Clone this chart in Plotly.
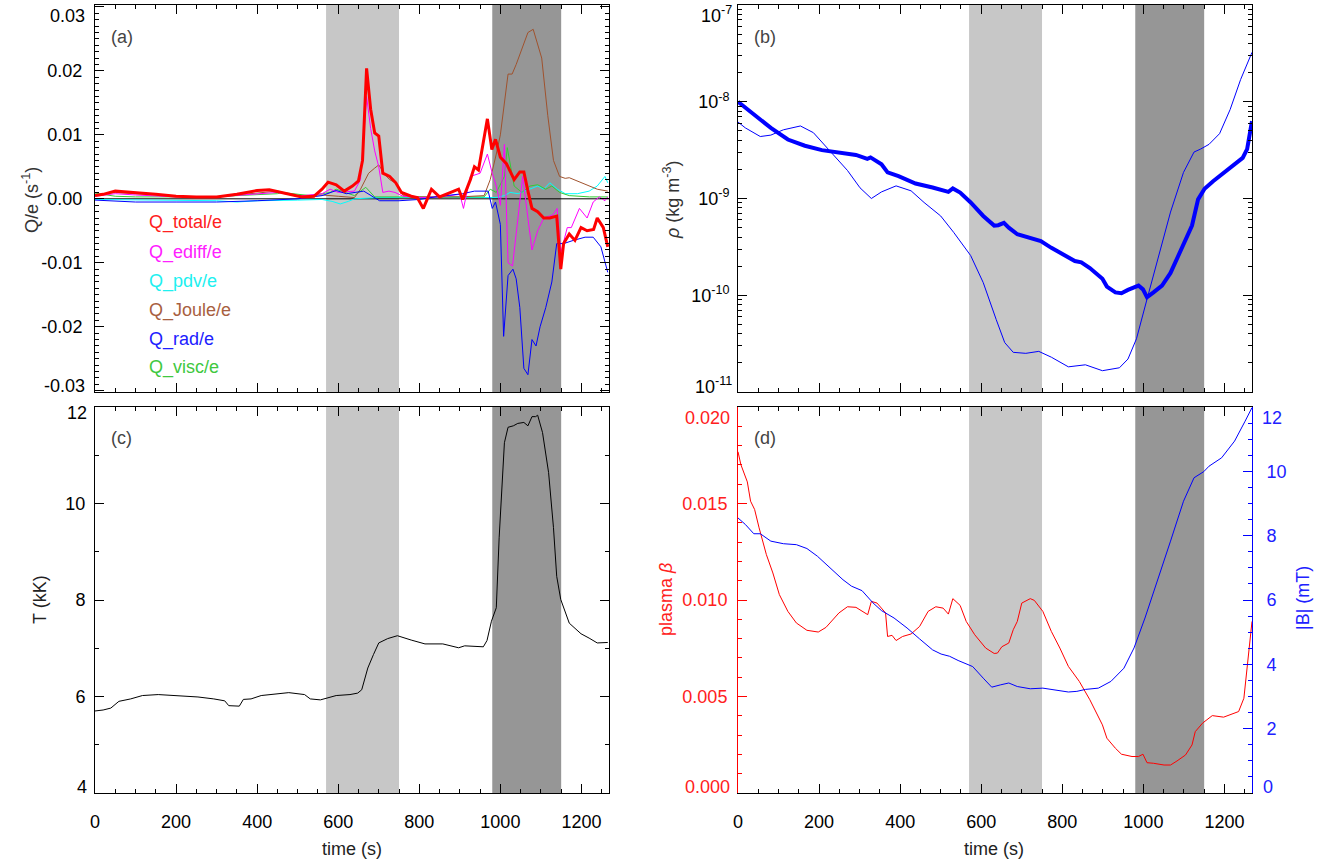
import plotly.graph_objects as go

W, H = 1327, 863

# ---------------- data ----------------
light_band = [570, 750]
dark_band = [980, 1150]
t_max = 1268

t_total = [0, 20, 50, 80, 110, 150, 200, 250, 300, 350, 400, 430, 460, 490, 510, 540, 560, 575, 595, 615, 635, 650, 660, 670, 680, 690, 700, 710, 727, 742, 756, 780, 795, 810, 830, 850, 870, 897, 907, 926, 936, 946, 968, 979, 988, 1000, 1015, 1034, 1048, 1058, 1068, 1078, 1092, 1107, 1122, 1139, 1149, 1156, 1170, 1184, 1199, 1214, 1230, 1239, 1254, 1265]
q_total = [0.0005, 0.0007, 0.0012, 0.001, 0.0009, 0.0007, 0.0004, 0.0003, 0.0003, 0.0007, 0.0013, 0.0014, 0.001, 0.0006, 0.0003, 0.0004, 0.0015, 0.0026, 0.0022, 0.0012, 0.002, 0.0028, 0.006, 0.0204, 0.014, 0.0103, 0.0098, 0.004, 0.0035, 0.0025, 0.001, 0.0004, 0.0002, -0.0015, 0.0015, 0.0003, 0.0008, 0.0015, -0.0001, 0.003, 0.005, 0.0045, 0.0125, 0.0077, 0.0093, 0.0065, 0.0055, 0.003, 0.0042, 0.0042, 0.0012, -0.0015, -0.002, -0.003, -0.003, -0.0027, -0.011, -0.007, -0.0055, -0.0065, -0.0045, -0.005, -0.0048, -0.003, -0.0045, -0.0075]

t_ediff = [0, 50, 100, 200, 300, 400, 450, 500, 560, 580, 600, 640, 655, 670, 680, 690, 700, 710, 725, 740, 760, 800, 850, 900, 909, 926, 950, 968, 980, 990, 1000, 1010, 1019, 1030, 1045, 1055, 1078, 1092, 1107, 1130, 1140, 1149, 1165, 1175, 1195, 1214, 1229, 1244, 1258, 1265]
q_ediff = [0.0004, 0.0008, 0.0006, 0.0003, 0.0003, 0.0008, 0.001, 0.0004, 0.0008, 0.0015, 0.001, 0.0012, 0.003, 0.016, 0.011, 0.0075, 0.005, 0.001, 0.0012, 0.001, 0.0004, 0.0002, 0.0003, 0.0007, -0.0015, 0.0035, 0.004, 0.007, 0.004, 0.002, -0.001, 0.0085, -0.01, -0.0105, -0.002, 0.0035, -0.008, -0.005, -0.003, -0.0025, -0.0015, -0.0085, -0.0045, -0.0045, -0.0015, -0.003, -0.0005, 0.0003, -0.0003, 0.0003]

t_pdv = [0, 100, 200, 300, 350, 400, 500, 560, 585, 605, 625, 640, 700, 800, 900, 990, 1010, 1024, 1044, 1073, 1092, 1107, 1122, 1141, 1160, 1190, 1219, 1239, 1258, 1265]
q_pdv = [-0.0001, -0.0002, -0.0003, -0.0003, -0.0005, -0.0003, -0.0002, -0.0001, -0.0004, -0.0008, -0.0004, 0.0, 0.0002, 0.0002, 0.0002, 0.0002, 0.0005, 0.001, 0.0008, 0.0015, 0.002, 0.0015, 0.0025, 0.0015, 0.0008, 0.0008, 0.0012, 0.002, 0.0035, 0.0025]

t_joule = [0, 50, 100, 200, 300, 400, 450, 500, 560, 600, 640, 655, 675, 690, 700, 715, 727, 741, 760, 800, 900, 960, 975, 990, 1000, 1019, 1029, 1039, 1068, 1081, 1102, 1117, 1131, 1146, 1160, 1170, 1190, 1209, 1239, 1265]
q_joule = [0.0006, 0.001, 0.0008, 0.0004, 0.0003, 0.0009, 0.0012, 0.0005, 0.0006, 0.0004, 0.0002, 0.0015, 0.004, 0.0048, 0.0053, 0.0038, 0.003, 0.0025, 0.0005, 0.0003, 0.0003, 0.0005, 0.003, 0.007, 0.01, 0.0195, 0.0195, 0.021, 0.026, 0.0265, 0.022, 0.013, 0.006, 0.0035, 0.0032, 0.0033, 0.0028, 0.0022, 0.0015, 0.0012]

t_rad = [0, 100, 200, 300, 400, 500, 560, 595, 620, 663, 702, 750, 800, 839, 907, 936, 970, 980, 988, 1000, 1008, 1019, 1031, 1039, 1048, 1058, 1068, 1078, 1088, 1098, 1112, 1127, 1139, 1156, 1180, 1209, 1229, 1248, 1265]
q_rad = [-0.0002, -0.0005, -0.0005, -0.0005, -0.0003, 0.0, 0.0005, 0.0013, 0.0008, 0.0012, -0.0003, -0.0003, -0.0001, 0.0003, 0.0008, 0.0012, 0.0012, -0.0015, -0.0005, -0.004, -0.0215, -0.012, -0.011, -0.0125, -0.017, -0.0265, -0.0275, -0.022, -0.023, -0.02, -0.017, -0.013, -0.007, -0.007, -0.0065, -0.006, -0.006, -0.0075, -0.0115]

t_visc = [0, 50, 100, 200, 300, 350, 450, 460, 530, 580, 595, 640, 668, 690, 800, 960, 975, 990, 1010, 1017, 1034, 1053, 1073, 1092, 1112, 1127, 1146, 1170, 1220, 1265]
q_visc = [0.0009, 0.0004, 0.0003, 0.0003, 0.0003, 0.0005, 0.0008, 0.001, 0.0005, 0.001, 0.0015, 0.0005, 0.0018, 0.0003, 0.0003, 0.0003, 0.0015, 0.001, 0.0035, 0.008, 0.002, 0.001, 0.002, 0.0022, 0.0015, 0.002, 0.001, 0.0005, 0.0003, 0.0003]

t_rho_thick = [0, 39, 81, 123, 165, 207, 249, 291, 319, 327, 354, 369, 396, 438, 480, 519, 530, 548, 574, 605, 632, 642, 656, 668, 689, 716, 747, 773, 805, 831, 847, 868, 899, 910, 931, 946, 962, 988, 999, 1009, 1025, 1046, 1067, 1093, 1120, 1135, 1151, 1172, 1193, 1219, 1245, 1256, 1268]
rho_thick = [1.0e-8, 7.41e-9, 5.37e-9, 4.07e-9, 3.51e-9, 3.16e-9, 3.02e-9, 2.82e-9, 2.57e-9, 2.66e-9, 2.26e-9, 1.86e-9, 1.70e-9, 1.43e-9, 1.30e-9, 1.17e-9, 1.27e-9, 1.15e-9, 9.1e-10, 6.6e-10, 5.25e-10, 5.3e-10, 5.6e-10, 5.0e-10, 4.27e-10, 3.98e-10, 3.63e-10, 3.09e-10, 2.57e-10, 2.26e-10, 2.19e-10, 1.91e-10, 1.48e-10, 1.23e-10, 1.07e-10, 1.05e-10, 1.135e-10, 1.26e-10, 1.15e-10, 9.55e-11, 1.07e-10, 1.26e-10, 1.70e-10, 2.95e-10, 5.25e-10, 9.8e-10, 1.26e-9, 1.51e-9, 1.78e-9, 2.19e-9, 2.63e-9, 3.24e-9, 6.3e-9]

t_rho_thin = [0, 18, 55, 81, 112, 154, 186, 228, 270, 301, 329, 354, 390, 427, 459, 500, 532, 574, 605, 637, 658, 679, 710, 742, 773, 815, 857, 899, 941, 962, 983, 1009, 1036, 1067, 1099, 1125, 1141, 1162, 1188, 1214, 1240, 1268]
rho_thin = [6.17e-9, 5.37e-9, 4.37e-9, 4.52e-9, 5.13e-9, 5.62e-9, 4.79e-9, 3.09e-9, 1.95e-9, 1.29e-9, 1.0e-9, 1.17e-9, 1.35e-9, 1.20e-9, 9.1e-10, 6.6e-10, 4.47e-10, 2.57e-10, 1.35e-10, 5.6e-11, 3.24e-11, 2.57e-11, 2.51e-11, 2.63e-11, 2.29e-11, 1.82e-11, 1.91e-11, 1.66e-11, 1.78e-11, 2.19e-11, 3.55e-11, 9.1e-11, 2.34e-10, 7.24e-10, 1.86e-9, 3.02e-9, 3.24e-9, 3.63e-9, 4.68e-9, 8.3e-9, 1.70e-8, 3.24e-8]

t_temp = [0, 20, 39, 59, 88, 117, 156, 205, 254, 293, 320, 330, 341, 356, 366, 385, 410, 449, 478, 517, 531, 556, 575, 595, 629, 648, 658, 673, 687, 700, 722, 746, 780, 814, 858, 897, 912, 946, 958, 967, 978, 990, 997, 1010, 1019, 1032, 1043, 1058, 1068, 1078, 1087, 1092, 1104, 1119, 1131, 1139, 1149, 1170, 1199, 1219, 1239, 1265]
temp_kK = [5.70, 5.72, 5.76, 5.90, 5.95, 6.02, 6.04, 6.02, 5.99, 5.95, 5.91, 5.81, 5.81, 5.80, 5.94, 5.95, 6.02, 6.06, 6.08, 6.04, 5.95, 5.93, 5.97, 6.02, 6.04, 6.07, 6.14, 6.59, 6.87, 7.11, 7.20, 7.26, 7.17, 7.09, 7.09, 7.01, 7.05, 7.03, 7.03, 7.16, 7.56, 7.84, 9.29, 11.26, 11.58, 11.61, 11.66, 11.68, 11.61, 11.80, 11.80, 11.83, 11.47, 10.64, 9.50, 8.49, 8.01, 7.52, 7.30, 7.21, 7.11, 7.12]

t_beta = [0, 7, 23, 31, 41, 52, 70, 86, 102, 123, 144, 170, 198, 217, 249, 270, 291, 320, 329, 343, 364, 369, 380, 390, 406, 427, 448, 469, 488, 506, 519, 530, 548, 563, 584, 611, 632, 640, 651, 668, 679, 689, 700, 721, 731, 752, 773, 794, 815, 842, 868, 899, 910, 931, 946, 972, 988, 999, 1009, 1025, 1051, 1067, 1083, 1104, 1120, 1128, 1146, 1170, 1198, 1219, 1235, 1248, 1258, 1268]
beta = [0.01768, 0.01702, 0.01612, 0.01512, 0.01469, 0.01374, 0.01235, 0.0114, 0.01028, 0.00941, 0.00881, 0.00843, 0.00834, 0.00858, 0.00933, 0.00965, 0.00962, 0.00924, 0.00993, 0.00984, 0.00933, 0.00811, 0.00817, 0.0079, 0.00811, 0.00824, 0.00863, 0.00941, 0.00965, 0.00958, 0.00927, 0.01007, 0.00972, 0.00889, 0.0082, 0.00751, 0.00723, 0.00725, 0.00758, 0.00777, 0.00846, 0.00889, 0.00984, 0.01007, 0.00998, 0.00941, 0.00837, 0.00751, 0.00656, 0.00578, 0.00483, 0.00353, 0.00284, 0.00232, 0.00201, 0.00189, 0.00189, 0.00201, 0.00157, 0.00154, 0.00145, 0.00145, 0.00166, 0.00197, 0.00249, 0.00318, 0.00362, 0.00401, 0.00393, 0.00408, 0.00422, 0.00491, 0.00682, 0.00889]

t_bmag = [0, 18, 39, 55, 81, 112, 144, 170, 196, 228, 259, 280, 306, 333, 354, 385, 417, 448, 480, 501, 522, 543, 579, 605, 626, 647, 668, 689, 721, 752, 784, 815, 836, 857, 889, 920, 952, 977, 1004, 1036, 1067, 1099, 1125, 1149, 1162, 1193, 1225, 1251, 1268]
bmag_mT = [8.55, 8.35, 8.06, 8.06, 7.83, 7.75, 7.72, 7.60, 7.36, 7.0, 6.63, 6.43, 6.29, 5.91, 5.67, 5.44, 5.13, 4.79, 4.45, 4.32, 4.25, 4.12, 3.93, 3.57, 3.29, 3.36, 3.42, 3.31, 3.24, 3.26, 3.19, 3.14, 3.16, 3.22, 3.26, 3.47, 3.88, 4.51, 5.44, 6.63, 7.83, 9.07, 9.80, 9.99, 10.16, 10.42, 10.94, 11.56, 11.98]

legend_labels = ["Q_total/e", "Q_ediff/e", "Q_pdv/e", "Q_Joule/e", "Q_rad/e", "Q_visc/e"]
legend_colors = ["#ff2020", "#ff20ff", "#20f0f0", "#a8603f", "#2020ff", "#40c840"]

# tick labels (inner ones go on the axes, the two end ones are nudged inward as in the original)
q_ticks = [-0.03, -0.02, -0.01, 0.0, 0.01, 0.02, 0.03]
q_ticktext = ["-0.03", "-0.02", "-0.01", "0.00", "0.01", "0.02", "0.03"]
rho_ticks = [1e-11, 1e-10, 1e-9, 1e-8, 1e-7]
rho_ticktext = ["10<sup>-11</sup>", "10<sup>-10</sup>", "10<sup>-9</sup>", "10<sup>-8</sup>", "10<sup>-7</sup>"]
temp_ticks = [4, 6, 8, 10, 12]
temp_ticktext = ["4", "6", "8", "10", "12"]
beta_ticks = [0.0, 0.005, 0.010, 0.015, 0.020]
beta_ticktext = ["0.000", "0.005", "0.010", "0.015", "0.020"]
bmag_ticks = [0, 2, 4, 6, 8, 10, 12]
bmag_ticktext = ["0", "2", "4", "6", "8", "10", "12"]

# ---------------- figure ----------------
FONT = "Liberation Sans, Arial, Helvetica, sans-serif"
fig = go.Figure()


def line(x, y, color, width, xa, ya):
    fig.add_trace(go.Scatter(x=x, y=y, mode="lines", line=dict(color=color, width=width),
                             xaxis=xa, yaxis=ya, showlegend=False, hoverinfo="skip"))


# panel (a)
line([0, t_max], [0, 0], "black", 1, "x", "y")
line(t_pdv, q_pdv, "#00ffff", 1, "x", "y")
line(t_visc, q_visc, "#33cc33", 1, "x", "y")
line(t_joule, q_joule, "#a0522d", 1, "x", "y")
line(t_ediff, q_ediff, "#ff00ff", 1, "x", "y")
line(t_rad, q_rad, "#0000ff", 1, "x", "y")
line(t_total, q_total, "#ff0000", 3, "x", "y")
# panel (b)
line(t_rho_thin, rho_thin, "#0000ff", 1, "x2", "y2")
line(t_rho_thick, rho_thick, "#0000ff", 4, "x2", "y2")
# panel (c)
line(t_temp, temp_kK, "black", 1, "x3", "y3")
# panel (d)
line(t_beta, beta, "#ff0000", 1, "x4", "y4")
line(t_bmag, bmag_mT, "#0000ff", 1, "x4", "y5")


def px_x(p):
    return p / W


def px_y(p):
    return 1 - p / H


XA = [px_x(95), px_x(609)]
XB = [px_x(738), px_x(1252)]
YT = [px_y(392), px_y(5)]
YB = [px_y(793), px_y(407)]

tickfont = dict(family=FONT, size=18, color="black")


def inner(txt):
    return [""] + txt[1:-1] + [""]


def xaxis(domain, anchor, labels):
    return dict(domain=domain, anchor=anchor, range=[0, t_max], tickmode="linear", tick0=0, dtick=200,
                ticks="inside", ticklen=9, tickwidth=1, tickcolor="black",
                minor=dict(dtick=50, ticks="inside", ticklen=4, tickcolor="black"),
                showline=True, linecolor="black", linewidth=1, mirror="ticks", automargin=False,
                showgrid=False, zeroline=False, showticklabels=labels, tickfont=tickfont,
                ticklabelstandoff=12)


def yaxis(domain, anchor, **kw):
    d = dict(domain=domain, anchor=anchor, ticks="inside", ticklen=9, tickwidth=1, tickcolor="black",
             showline=True, linecolor="black", linewidth=1, mirror="ticks", tickmode="array",
             automargin=False,
             showgrid=False, zeroline=False, tickfont=tickfont, ticklabelstandoff=8)
    d.update(kw)
    return d


fig.update_layout(
    width=W, height=H, margin=dict(l=0, r=0, t=0, b=0, autoexpand=False),
    paper_bgcolor="white", plot_bgcolor="white", font=dict(family=FONT, size=18, color="black"),
    showlegend=False,
    xaxis=xaxis(XA, "y", False),
    xaxis2=xaxis(XB, "y2", False),
    xaxis3=xaxis(XA, "y3", True),
    xaxis4=xaxis(XB, "y4", True),
    yaxis=yaxis(YT, "x", range=[-0.0302, 0.0303], tickvals=q_ticks, ticktext=inner(q_ticktext),
                minor=dict(tickmode="linear", dtick=0.001, tick0=0, ticks="inside", ticklen=4, tickcolor="black")),
    yaxis2=yaxis(YT, "x2", type="log", range=[-11, -7], tickvals=rho_ticks, ticktext=inner(rho_ticktext),
                 ticklabelstandoff=4,
                 minor=dict(dtick="D1", ticks="inside", ticklen=4, tickcolor="black")),
    yaxis3=yaxis(YB, "x3", range=[4, 12], tickvals=temp_ticks, ticktext=inner(temp_ticktext),
                 ticklabelstandoff=5,
                 minor=dict(tickmode="linear", dtick=1, tick0=0, ticks="inside", ticklen=4, tickcolor="black")),
    yaxis4=yaxis(YB, "x4", range=[0, 0.020], tickvals=beta_ticks, ticktext=inner(beta_ticktext),
                 mirror=False, linecolor="#ff0000", tickcolor="#ff0000", ticklabelstandoff=6,
                 tickfont=dict(family=FONT, size=18, color="#ff2020"),
                 minor=dict(tickmode="linear", dtick=0.001, tick0=0, ticks="inside", ticklen=4, tickcolor="#ff0000")),
    yaxis5=yaxis(YB, "x4", overlaying="y4", side="right", range=[0, 12], tickvals=bmag_ticks,
                 ticktext=inner(bmag_ticktext),
                 mirror=False, linecolor="#0000ff", tickcolor="#0000ff",
                 tickfont=dict(family=FONT, size=18, color="#2020ff"), ticklabelstandoff=10,
                 minor=dict(tickmode="linear", dtick=0.5, tick0=0, ticks="inside", ticklen=4, tickcolor="#0000ff")),
)

# shaded intervals
for xa, ya in [("x", "y"), ("x2", "y2"), ("x3", "y3"), ("x4", "y4")]:
    for band, col in [(light_band, "#c7c7c7"), (dark_band, "#969696")]:
        fig.add_shape(type="rect", xref=xa, yref=ya + " domain", x0=band[0], x1=band[1], y0=0, y1=1,
                      fillcolor=col, line=dict(width=0), layer="below")

ann = []


def text(px, py, s, color="#333333", size=18, angle=0, xanchor="center"):
    ann.append(dict(x=px_x(px), y=px_y(py), xref="paper", yref="paper", text=s, showarrow=False,
                    textangle=angle, xanchor=xanchor, yanchor="middle", borderpad=0,
                    font=dict(family=FONT, size=size, color=color)))


# end tick labels, nudged inside the panel height
text(86, 16, q_ticktext[-1], "black", 18, xanchor="right")
text(86, 386, q_ticktext[0], "black", 18, xanchor="right")
text(88, 413, temp_ticktext[-1], "black", 18, xanchor="right")
text(88, 787, temp_ticktext[0], "black", 18, xanchor="right")
text(733, 14, rho_ticktext[-1], "black", 18, xanchor="right")
text(733, 385, rho_ticktext[0], "black", 18, xanchor="right")
text(731, 418, beta_ticktext[-1], "#ff2020", 18, xanchor="right")
text(731, 787, beta_ticktext[0], "#ff2020", 18, xanchor="right")
text(1261, 418, bmag_ticktext[-1], "#2020ff", 18, xanchor="left")
text(1262, 787, bmag_ticktext[0], "#2020ff", 18, xanchor="left")

text(110, 37, "(a)", "#444444", 18, xanchor="left")
text(753, 37, "(b)", "#444444", 18, xanchor="left")
text(110, 438, "(c)", "#444444", 18, xanchor="left")
text(753, 438, "(d)", "#444444", 18, xanchor="left")

for i, (lab, col) in enumerate(zip(legend_labels, legend_colors)):
    text(148, 223 + i * 29, lab, col, 18, xanchor="left")

text(31, 200, "Q/e (s<sup>-1</sup>)", "#333333", 18, -90)
text(672, 200, "<i>ρ</i> (kg m<sup>-3</sup>)", "#333333", 18, -90)
text(40, 600, "T (kK)", "#222222", 18, -90)
text(666, 600, "plasma <i>β</i>", "#ff2020", 18, -90)
text(1303, 598, "|B| (mT)", "#2020ff", 18, -90)
text(352, 849, "time (s)", "#222222", 18)
text(994, 849, "time (s)", "#222222", 18)

fig.update_layout(annotations=ann)

fig.write_html("out.html")
